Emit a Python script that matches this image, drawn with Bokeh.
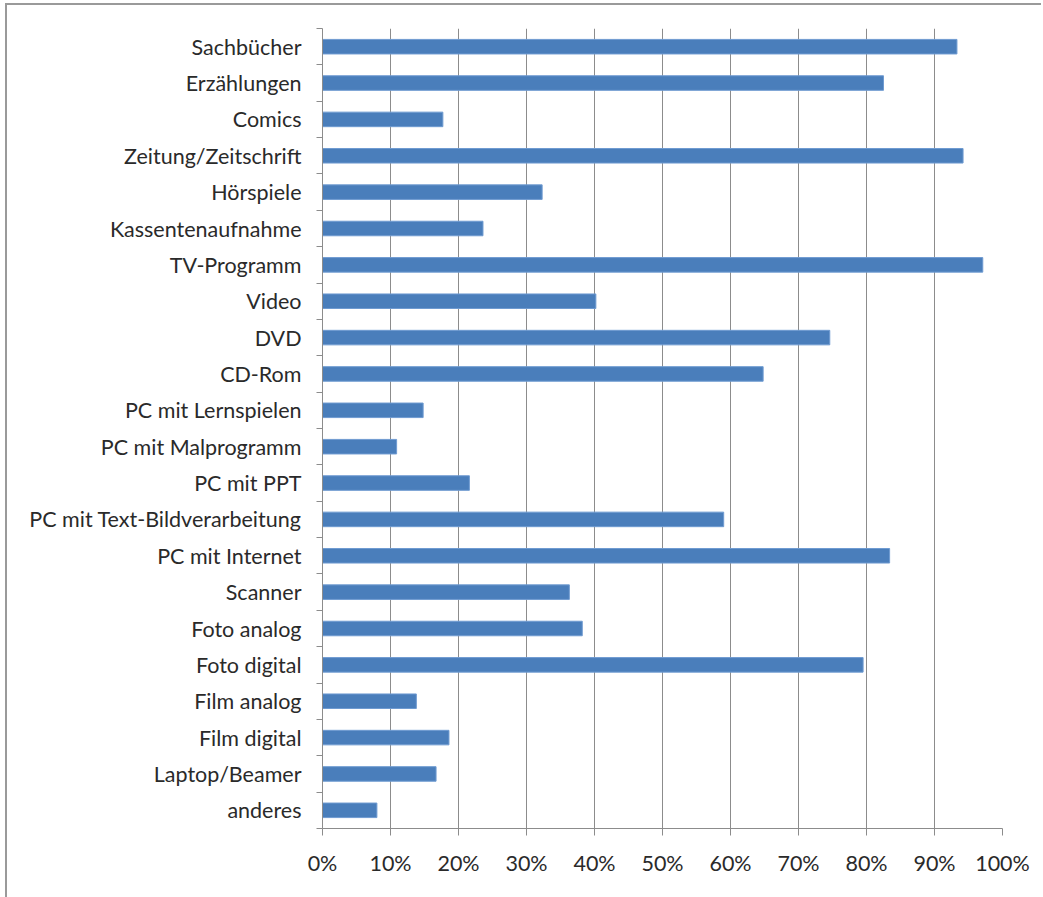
from bokeh.plotting import figure
from bokeh.models import FixedTicker, PrintfTickFormatter, ColumnDataSource
from bokeh.embed import file_html
from bokeh.resources import INLINE

categories = ["Sachbücher", "Erzählungen", "Comics", "Zeitung/Zeitschrift", "Hörspiele",
              "Kassentenaufnahme", "TV-Programm", "Video", "DVD", "CD-Rom",
              "PC mit Lernspielen", "PC mit Malprogramm", "PC mit PPT",
              "PC mit Text-Bildverarbeitung", "PC mit Internet", "Scanner",
              "Foto analog", "Foto digital", "Film analog", "Film digital",
              "Laptop/Beamer", "anderes"]
values = [93.3, 82.5, 17.7, 94.2, 32.3, 23.6, 97.1, 40.2, 74.6, 64.8,
          14.8, 10.9, 21.6, 59.0, 83.4, 36.3, 38.2, 79.5, 13.8, 18.6, 16.7, 8.0]
x_ticks = [0, 10, 20, 30, 40, 50, 60, 70, 80, 90, 100]

n = len(categories)
ypos = [n - i - 0.5 for i in range(n)]
src = ColumnDataSource(dict(y=ypos, v=values, cat=categories))

W, H = 1036, 894
p = figure(width=W, height=H, output_backend="svg", toolbar_location=None,
           x_range=(0, 100), y_range=(0, n),
           min_border_left=315, min_border_right=41, min_border_top=23, min_border_bottom=71)
p.margin = (3, 0, 0, 5)
p.styles = {"border-left": "2px solid #9a9a9a", "border-top": "2px solid #9a9a9a"}
p.outline_line_color = None
p.background_fill_color = "white"
p.border_fill_color = "white"

p.hbar(y="y", right="v", left=0, height=0.4, source=src,
       fill_color="#4a7ebb", line_color="#6f9bd1", line_width=1)

GRAY = "#8c8c8c"
FONT = "Lato"
TXT = "#2a2a2a"

p.xaxis.ticker = FixedTicker(ticks=x_ticks)
p.xaxis.formatter = PrintfTickFormatter(format="%d%%")
p.xaxis.axis_line_color = GRAY
p.xaxis.major_tick_line_color = GRAY
p.xaxis.major_tick_out = 7
p.xaxis.major_tick_in = 0
p.xaxis.minor_tick_line_color = None
p.xaxis.major_label_text_font = FONT
p.xaxis.major_label_text_font_size = "21.5px"
p.xaxis.major_label_text_color = TXT
p.xaxis.major_label_standoff = 14

p.yaxis.ticker = FixedTicker(ticks=ypos, minor_ticks=list(range(n + 1)))
p.yaxis.major_label_overrides = {y: c for y, c in zip(ypos, categories)}
p.yaxis.axis_line_color = GRAY
p.yaxis.major_tick_line_color = None
p.yaxis.major_tick_out = 0
p.yaxis.major_tick_in = 0
p.yaxis.minor_tick_line_color = GRAY
p.yaxis.minor_tick_out = 6
p.yaxis.minor_tick_in = 0
p.yaxis.major_label_text_font = FONT
p.yaxis.major_label_text_font_size = "21.5px"
p.yaxis.major_label_text_color = TXT
p.yaxis.major_label_standoff = 15

p.xgrid.ticker = FixedTicker(ticks=x_ticks[1:])
p.xgrid.grid_line_color = GRAY
p.xgrid.grid_line_width = 1
p.ygrid.grid_line_color = None

open("out.html", "w").write(file_html(p, INLINE))
